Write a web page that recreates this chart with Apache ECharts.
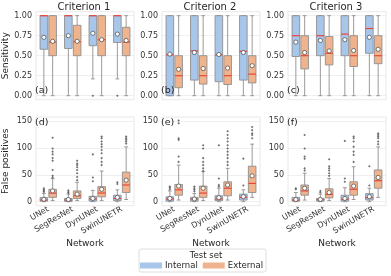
<!DOCTYPE html>
<html><head><meta charset="utf-8">
<script src="https://cdn.jsdelivr.net/npm/echarts@6/dist/echarts.min.js"></script>
<style>html,body{margin:0;padding:0;background:#fff}#c{width:391px;height:276px}</style>
</head><body><div id="c"></div><script>
// ---------------- data ----------------
const categories = ['UNet', 'SegResNet', 'DynUNet', 'SwinUNETR'];
const criteria = ['Criterion 1', 'Criterion 2', 'Criterion 3'];
const panelLabels = ['(a)', '(b)', '(c)', '(d)', '(e)', '(f)'];
const testSets = ['Internal', 'External'];
const sensTicks = [0, 0.25, 0.5, 0.75, 1];
const fpTicks = [0, 50, 100, 150];
// box stats per model: [whiskerLow, Q1, median, Q3, whiskerHigh, mean]
const sensC1Internal = [[0, 0.58, 1, 1, 1, 0.73], [0, 0.59, 1, 1, 1, 0.75], [0.21, 0.625, 1, 1, 1, 0.78], [0.21, 0.665, 1, 1, 1, 0.77]];
const sensC1External = [[0, 0.5, 0.67, 1, 1, 0.68], [0, 0.5, 0.675, 0.88, 1, 0.68], [0, 0.5, 0.70, 1, 1, 0.70], [0, 0.5, 0.67, 0.855, 1, 0.69]];
const sensC2Internal = [[0, 0, 0.51, 1, 1, 0.52], [0, 0.195, 0.56, 1, 1, 0.54], [0, 0.175, 0.51, 1, 1, 0.515], [0, 0.195, 0.555, 1, 1, 0.54]];
const sensC2External = [[0, 0.10, 0.25, 0.5, 1, 0.33], [0, 0.145, 0.25, 0.5, 1, 0.34], [0, 0.14, 0.25, 0.5, 1, 0.345], [0, 0.16, 0.27, 0.5, 1, 0.375]];
const sensC3Internal = [[0, 0.49, 0.75, 1, 1, 0.67], [0, 0.5, 0.75, 1, 1, 0.69], [0, 0.5, 0.77, 1, 1, 0.70], [0, 0.53, 0.84, 1, 1, 0.73]];
const sensC3External = [[0, 0.335, 0.5, 0.75, 1, 0.54], [0, 0.385, 0.53, 0.74, 1, 0.56], [0, 0.365, 0.5, 0.75, 1, 0.565], [0, 0.40, 0.5, 0.75, 1, 0.58]];
const fpC1Internal = [[0, 1, 3, 7.5, 15, 4.5], [0, 0.5, 3, 6, 14, 4], [0, 1, 5, 10, 21, 6], [0, 2, 6, 12, 22, 8]];
const fpC1External = [[2, 8, 16, 23, 43, 20], [2, 6, 11, 20, 36, 14], [2, 9, 16, 28, 57, 23], [4, 17, 31, 55, 102, 40]];
const fpC2Internal = [[0, 1, 5, 9, 20, 6], [0, 1, 5, 8, 15, 5], [0, 2, 5, 11, 25, 7.5], [0, 3, 8, 14, 22, 9.3]];
const fpC2External = [[3, 12, 22, 32, 68, 29], [2, 8, 16, 29, 56, 25], [3, 11, 25, 37, 62, 31], [8, 17, 34, 66, 107, 48]];
const fpC3Internal = [[0, 1, 3, 8, 17, 4], [0, 1, 3.7, 6, 14, 4.3], [0, 1, 4.5, 12, 26, 6], [0, 3, 7.5, 15, 25, 9.3]];
const fpC3External = [[3, 12, 20, 31, 53, 25], [2, 7, 13.6, 24, 43, 17], [4, 12, 23, 37, 65, 29], [8, 25, 39, 59, 102, 45]];
// outliers: [modelIndex, value]
const sensC1InternalOut = [[2, 0], [3, 0]];
const fpC1InternalOut = [[0, 18], [0, 20], [0, 22], [0, 25], [1, 16], [1, 18], [1, 21], [2, 38], [2, 45], [2, 88], [3, 33], [3, 36]];
const fpC1ExternalOut = [[0, 45], [0, 48], [0, 59], [0, 76], [0, 81], [0, 88], [0, 93], [0, 99], [0, 119],
  [1, 40], [1, 46], [1, 53], [1, 59], [1, 64], [1, 68], [1, 71], [1, 76],
  [2, 68], [2, 74], [2, 81], [2, 90], [2, 96], [2, 102], [2, 107], [2, 112], [2, 118], [2, 121],
  [3, 108], [3, 112], [3, 115], [3, 118], [3, 121]];
const fpC2InternalOut = [[0, 23], [0, 26], [0, 28], [1, 19], [1, 22], [1, 25], [1, 28], [2, 28], [2, 31], [2, 43], [2, 105], [3, 30], [3, 80]];
const fpC2ExternalOut = [[0, 74], [0, 84], [0, 115], [0, 118], [0, 146], [0, 151],
  [1, 57], [1, 62], [1, 68], [1, 74], [1, 81], [1, 99], [1, 105],
  [2, 68], [2, 74], [2, 81], [2, 87], [2, 93], [2, 99], [2, 105], [2, 112], [2, 118], [2, 124], [2, 131],
  [3, 118], [3, 124], [3, 127], [3, 133], [3, 139]];
const fpC3InternalOut = [[0, 23], [0, 25], [1, 17], [1, 20], [2, 37], [2, 43], [2, 113], [3, 30], [3, 66]];
const fpC3ExternalOut = [[0, 58], [0, 62], [0, 80], [0, 84], [0, 99], [0, 124],
  [1, 48], [1, 53], [1, 58], [1, 62], [1, 66], [1, 79],
  [2, 74], [2, 87], [2, 93], [2, 102], [2, 112], [2, 118], [2, 121],
  [3, 107], [3, 112], [3, 118], [3, 121], [3, 124], [3, 127]];

// ---------------- styling / layout ----------------
const COL_INT = '#a7c6ea', COL_EXT = '#efb48d';
const EDGE = '#8f8f8f', MED = '#ea4638';
const FONT = 'DejaVu Sans';
const gridLefts = [36, 162, 288], gridW = 98;
const rows = [
  {top: 11.7, height: 88, min: -0.05, max: 1.05, ticks: sensTicks, fmt: v => v.toFixed(2), name: 'Sensitivity'},
  {top: 117, height: 88.7, min: -7.5, max: 157.5, ticks: fpTicks, fmt: v => String(v), name: 'False positives'}
];
const panels = [
  [sensC1Internal, sensC1External, sensC1InternalOut, []],
  [sensC2Internal, sensC2External, [], []],
  [sensC3Internal, sensC3External, [], []],
  [fpC1Internal, fpC1External, fpC1InternalOut, fpC1ExternalOut],
  [fpC2Internal, fpC2External, fpC2InternalOut, fpC2ExternalOut],
  [fpC3Internal, fpC3External, fpC3InternalOut, fpC3ExternalOut]
];
const BOX_W = 7.6, OFF = 4.4;

function makeRender(off, fill) {
  return function (params, api) {
    const c = api.value(0);
    const p = k => api.coord([c, api.value(k)]);
    const pMin = p(1), pQ1 = p(2), pMed = p(3), pQ3 = p(4), pMax = p(5), pMean = p(6);
    const x = pMin[0] + off, hw = BOX_W / 2, cw = BOX_W / 4;
    const ls = {stroke: EDGE, lineWidth: 0.9};
    return {type: 'group', children: [
      {type: 'line', shape: {x1: x, y1: pQ1[1], x2: x, y2: pMin[1]}, style: ls},
      {type: 'line', shape: {x1: x, y1: pQ3[1], x2: x, y2: pMax[1]}, style: ls},
      {type: 'line', shape: {x1: x - cw, y1: pMin[1], x2: x + cw, y2: pMin[1]}, style: ls},
      {type: 'line', shape: {x1: x - cw, y1: pMax[1], x2: x + cw, y2: pMax[1]}, style: ls},
      {type: 'rect', shape: {x: x - hw, y: pQ3[1], width: BOX_W, height: pQ1[1] - pQ3[1]}, style: {fill: fill, stroke: EDGE, lineWidth: 0.9}},
      {type: 'line', shape: {x1: x - hw, y1: pMed[1], x2: x + hw, y2: pMed[1]}, style: {stroke: MED, lineWidth: 1.2}},
      {type: 'circle', shape: {cx: x, cy: pMean[1], r: 2.1}, style: {fill: '#fff', stroke: '#555', lineWidth: 0.8}}
    ]};
  };
}

const grid = [], xAxis = [], yAxis = [], series = [], graphic = [];
panels.forEach((pd, i) => {
  const r = Math.floor(i / 3), col = i % 3, row = rows[r];
  grid.push({left: gridLefts[col], top: row.top, width: gridW, height: row.height, show: true, borderColor: '#e2e2e2', borderWidth: 0.8, containLabel: false});
  xAxis.push({
    type: 'category', gridIndex: i, data: categories,
    axisLine: {show: false}, axisTick: {show: false}, splitLine: {show: false},
    axisLabel: {show: r === 1, rotate: 30, interval: 0, fontSize: 8, color: '#333', fontFamily: FONT, margin: 3},
    name: r === 1 ? 'Network' : '', nameLocation: 'middle', nameGap: 33,
    nameTextStyle: {fontSize: 9, color: '#262626', fontFamily: FONT}
  });
  yAxis.push({
    type: 'value', gridIndex: i, min: row.min, max: row.max,
    axisLine: {show: false},
    axisTick: {show: false, customValues: row.ticks},
    axisLabel: {customValues: row.ticks, formatter: row.fmt, fontSize: 8, color: '#333', fontFamily: FONT, margin: 4},
    splitLine: {show: true, lineStyle: {color: '#ebebeb', width: 0.8}},
    name: col === 0 ? row.name : '', nameLocation: 'middle', nameRotate: 90, nameGap: 26,
    nameTextStyle: {fontSize: 9, color: '#262626', fontFamily: FONT}
  });
  [[pd[0], COL_INT, -OFF, pd[2], 'Internal'], [pd[1], COL_EXT, OFF, pd[3], 'External']].forEach(([stats, color, off, outs, nm]) => {
    series.push({
      type: 'custom', name: nm, xAxisIndex: i, yAxisIndex: i,
      itemStyle: {color: color},
      renderItem: makeRender(off, color),
      encode: {x: 0, y: [1, 2, 3, 4, 5, 6]},
      data: stats.map((s, k) => [k].concat(s)),
      z: 2
    });
    if (outs.length) series.push({
      type: 'scatter', name: nm + ' outliers', xAxisIndex: i, yAxisIndex: i,
      symbol: 'diamond', symbolSize: 2.6, symbolOffset: [off, 0],
      itemStyle: {color: '#505050'}, data: outs, z: 3, silent: true
    });
  });
  // panel letter
  graphic.push({type: 'text', z: 100, left: gridLefts[col] - 1, top: r === 0 ? 86 : 118,
    style: {text: panelLabels[i], fontSize: 9.5, fill: '#262626', fontFamily: FONT}});
  if (r === 0) graphic.push({type: 'text', x: gridLefts[col] + gridW / 2 - 1, y: 7,
    style: {text: criteria[col], fontSize: 10, fill: '#262626', fontFamily: FONT, align: 'center', verticalAlign: 'middle'}});
});
graphic.push({type: 'text', x: 206, y: 256, style: {text: 'Test set', fontSize: 8.5, fill: '#262626', fontFamily: FONT, align: 'center', verticalAlign: 'middle'}});

const chart = echarts.init(document.getElementById('c'), null, {renderer: 'canvas'});
chart.setOption({
  animation: false,
  backgroundColor: '#fff',
  grid, xAxis, yAxis, series, graphic,
  legend: {
    data: testSets.map((n, k) => ({name: n, icon: 'rect', itemStyle: {color: k ? COL_EXT : COL_INT}})),
    left: 139, top: 249, padding: [12, 3, 2, 1],
    borderColor: '#d6d6d6', borderWidth: 0.8, borderRadius: 2,
    itemWidth: 22, itemHeight: 6, itemGap: 5,
    textStyle: {fontSize: 8.5, color: '#262626', fontFamily: FONT, padding: [0, 0, 0, -2]},
    selectedMode: false
  }
});
</script></body></html>
